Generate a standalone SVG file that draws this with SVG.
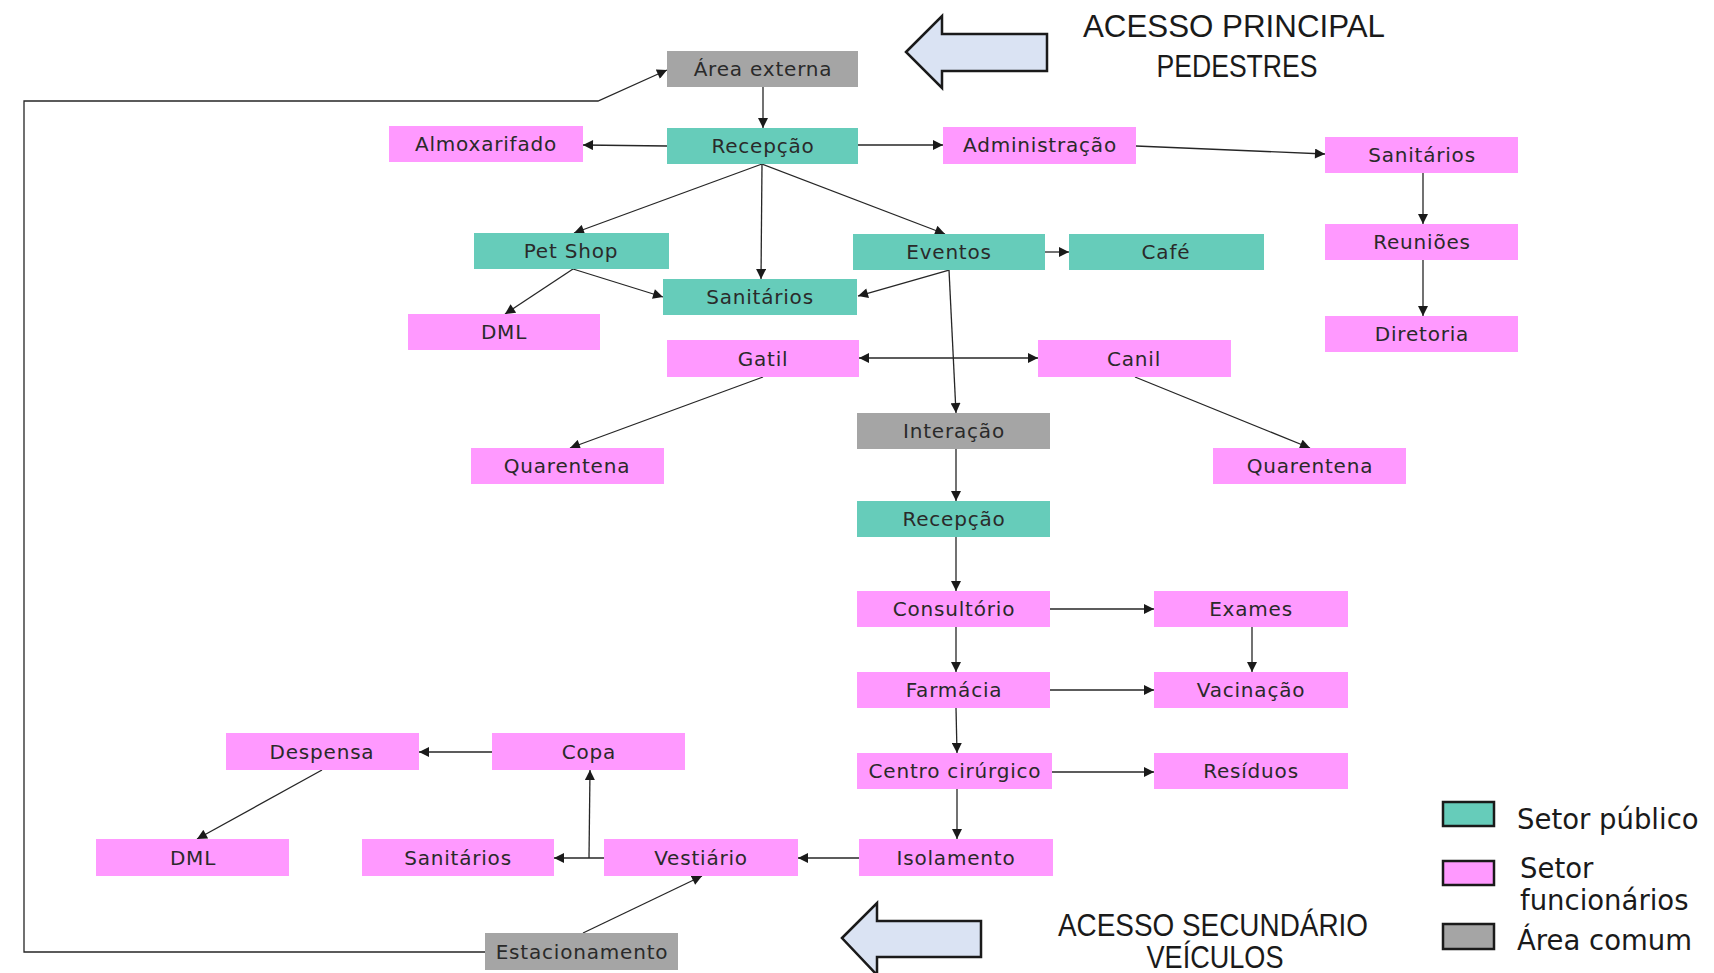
<svg xmlns="http://www.w3.org/2000/svg" width="1714" height="973" viewBox="0 0 1714 973">
<defs>
<marker id="ah" viewBox="0 0 10 10" refX="10" refY="5" markerWidth="11" markerHeight="10" markerUnits="userSpaceOnUse" orient="auto-start-reverse">
<path d="M0,0 L10,5 L0,10 z" fill="#1a1a1a"/>
</marker>
<style>
.pub{fill:#66CCBA}
.fun{fill:#FF99FF}
.com{fill:#A5A5A5}
.lbl{font-family:"DejaVu Sans",sans-serif;font-size:20px;fill:#2a2a2a;text-anchor:middle;letter-spacing:0.8px}
.cn{fill:none;stroke:#262626;stroke-width:1.3}
.big{fill:#DAE3F3;stroke:#1a1a1a;stroke-width:2.5}
.ttl{font-family:"Liberation Sans",sans-serif;font-size:31px;fill:#1a1a1a;text-anchor:middle}
.leg{font-family:"DejaVu Sans",sans-serif;font-size:27.5px;fill:#1a1a1a}
.lgb{stroke:#1a1a1a;stroke-width:2.5}
</style>
</defs>
<rect width="1714" height="973" fill="#ffffff"/>

<g id="connectors">
<line class="cn" x1="763" y1="87" x2="763" y2="128" marker-end="url(#ah)"/>
<line class="cn" x1="667" y1="146" x2="583" y2="145" marker-end="url(#ah)"/>
<line class="cn" x1="858" y1="145" x2="943" y2="145" marker-end="url(#ah)"/>
<line class="cn" x1="1136" y1="146" x2="1325" y2="154" marker-end="url(#ah)"/>
<line class="cn" x1="1423" y1="173" x2="1423" y2="224" marker-end="url(#ah)"/>
<line class="cn" x1="1423" y1="260" x2="1423" y2="316" marker-end="url(#ah)"/>
<line class="cn" x1="762" y1="164" x2="574" y2="233" marker-end="url(#ah)"/>
<line class="cn" x1="762" y1="164" x2="761" y2="279" marker-end="url(#ah)"/>
<line class="cn" x1="762" y1="164" x2="945" y2="234" marker-end="url(#ah)"/>
<line class="cn" x1="1045" y1="252" x2="1069" y2="252" marker-end="url(#ah)"/>
<line class="cn" x1="573" y1="269" x2="505" y2="314" marker-end="url(#ah)"/>
<line class="cn" x1="573" y1="269" x2="663" y2="297" marker-end="url(#ah)"/>
<line class="cn" x1="949" y1="270" x2="858" y2="296" marker-end="url(#ah)"/>
<line class="cn" x1="949" y1="270" x2="956" y2="413" marker-end="url(#ah)"/>
<line class="cn" x1="859" y1="358" x2="1038" y2="358" marker-start="url(#ah)" marker-end="url(#ah)"/>
<line class="cn" x1="763" y1="377" x2="570" y2="448" marker-end="url(#ah)"/>
<line class="cn" x1="1135" y1="377" x2="1310" y2="448" marker-end="url(#ah)"/>
<line class="cn" x1="956" y1="449" x2="956" y2="501" marker-end="url(#ah)"/>
<line class="cn" x1="956" y1="537" x2="956" y2="591" marker-end="url(#ah)"/>
<line class="cn" x1="1050" y1="609" x2="1154" y2="609" marker-end="url(#ah)"/>
<line class="cn" x1="956" y1="627" x2="956" y2="672" marker-end="url(#ah)"/>
<line class="cn" x1="1252" y1="627" x2="1252" y2="672" marker-end="url(#ah)"/>
<line class="cn" x1="1050" y1="690" x2="1154" y2="690" marker-end="url(#ah)"/>
<line class="cn" x1="956" y1="708" x2="957" y2="753" marker-end="url(#ah)"/>
<line class="cn" x1="1052" y1="772" x2="1154" y2="772" marker-end="url(#ah)"/>
<line class="cn" x1="957" y1="789" x2="957" y2="839" marker-end="url(#ah)"/>
<line class="cn" x1="859" y1="858" x2="798" y2="858" marker-end="url(#ah)"/>
<line class="cn" x1="604" y1="858" x2="554" y2="858" marker-end="url(#ah)"/>
<line class="cn" x1="589" y1="858" x2="590" y2="770" marker-end="url(#ah)"/>
<line class="cn" x1="492" y1="752" x2="419" y2="752" marker-end="url(#ah)"/>
<line class="cn" x1="322" y1="770" x2="197" y2="839" marker-end="url(#ah)"/>
<line class="cn" x1="583" y1="933" x2="702" y2="876" marker-end="url(#ah)"/>
<polyline class="cn" points="485,952 24,952 24,101 598,101 667,70" marker-end="url(#ah)"/>
</g>

<g id="n-area-externa"><rect class="com" x="667" y="51" width="191" height="36"/><text class="lbl" x="763" y="76">Área externa</text></g>
<g id="n-recepcao1"><rect class="pub" x="667" y="128" width="191" height="36"/><text class="lbl" x="763" y="153">Recepção</text></g>
<g id="n-almoxarifado"><rect class="fun" x="389" y="126" width="194" height="36"/><text class="lbl" x="486" y="151">Almoxarifado</text></g>
<g id="n-administracao"><rect class="fun" x="943" y="127" width="193" height="37"/><text class="lbl" x="1040" y="152">Administração</text></g>
<g id="n-sanitarios-adm"><rect class="fun" x="1325" y="137" width="193" height="36"/><text class="lbl" x="1422" y="162">Sanitários</text></g>
<g id="n-reunioes"><rect class="fun" x="1325" y="224" width="193" height="36"/><text class="lbl" x="1422" y="249">Reuniões</text></g>
<g id="n-diretoria"><rect class="fun" x="1325" y="316" width="193" height="36"/><text class="lbl" x="1422" y="341">Diretoria</text></g>
<g id="n-petshop"><rect class="pub" x="474" y="233" width="195" height="36"/><text class="lbl" x="571" y="258">Pet Shop</text></g>
<g id="n-eventos"><rect class="pub" x="853" y="234" width="192" height="36"/><text class="lbl" x="949" y="259">Eventos</text></g>
<g id="n-cafe"><rect class="pub" x="1069" y="234" width="195" height="36"/><text class="lbl" x="1166" y="259">Café</text></g>
<g id="n-sanitarios-pub"><rect class="pub" x="663" y="279" width="194" height="36"/><text class="lbl" x="760" y="304">Sanitários</text></g>
<g id="n-dml1"><rect class="fun" x="408" y="314" width="192" height="36"/><text class="lbl" x="504" y="339">DML</text></g>
<g id="n-gatil"><rect class="fun" x="667" y="340" width="192" height="37"/><text class="lbl" x="763" y="366">Gatil</text></g>
<g id="n-canil"><rect class="fun" x="1038" y="340" width="193" height="37"/><text class="lbl" x="1134" y="366">Canil</text></g>
<g id="n-quarentena-l"><rect class="fun" x="471" y="448" width="193" height="36"/><text class="lbl" x="567" y="473">Quarentena</text></g>
<g id="n-quarentena-r"><rect class="fun" x="1213" y="448" width="193" height="36"/><text class="lbl" x="1310" y="473">Quarentena</text></g>
<g id="n-interacao"><rect class="com" x="857" y="413" width="193" height="36"/><text class="lbl" x="954" y="438">Interação</text></g>
<g id="n-recepcao2"><rect class="pub" x="857" y="501" width="193" height="36"/><text class="lbl" x="954" y="526">Recepção</text></g>
<g id="n-consultorio"><rect class="fun" x="857" y="591" width="193" height="36"/><text class="lbl" x="954" y="616">Consultório</text></g>
<g id="n-exames"><rect class="fun" x="1154" y="591" width="194" height="36"/><text class="lbl" x="1251" y="616">Exames</text></g>
<g id="n-farmacia"><rect class="fun" x="857" y="672" width="193" height="36"/><text class="lbl" x="954" y="697">Farmácia</text></g>
<g id="n-vacinacao"><rect class="fun" x="1154" y="672" width="194" height="36"/><text class="lbl" x="1251" y="697">Vacinação</text></g>
<g id="n-centro"><rect class="fun" x="857" y="753" width="195" height="36"/><text class="lbl" x="955" y="778">Centro cirúrgico</text></g>
<g id="n-residuos"><rect class="fun" x="1154" y="753" width="194" height="36"/><text class="lbl" x="1251" y="778">Resíduos</text></g>
<g id="n-isolamento"><rect class="fun" x="859" y="839" width="194" height="37"/><text class="lbl" x="956" y="865">Isolamento</text></g>
<g id="n-vestiario"><rect class="fun" x="604" y="839" width="194" height="37"/><text class="lbl" x="701" y="865">Vestiário</text></g>
<g id="n-sanitarios-fun"><rect class="fun" x="362" y="839" width="192" height="37"/><text class="lbl" x="458" y="865">Sanitários</text></g>
<g id="n-dml2"><rect class="fun" x="96" y="839" width="193" height="37"/><text class="lbl" x="193" y="865">DML</text></g>
<g id="n-despensa"><rect class="fun" x="226" y="733" width="193" height="37"/><text class="lbl" x="322" y="759">Despensa</text></g>
<g id="n-copa"><rect class="fun" x="492" y="733" width="193" height="37"/><text class="lbl" x="589" y="759">Copa</text></g>
<g id="n-estacionamento"><rect class="com" x="485" y="933" width="193" height="37"/><text class="lbl" x="582" y="959">Estacionamento</text></g>

<g id="acesso-principal">
<polygon class="big" points="906,52 942,16 942,34 1047,34 1047,71 942,71 942,88"/>
<text class="ttl" x="1234" y="37" font-size="32" textLength="302" lengthAdjust="spacingAndGlyphs">ACESSO PRINCIPAL</text>
<text class="ttl" x="1237" y="77" font-size="32" textLength="161" lengthAdjust="spacingAndGlyphs">PEDESTRES</text>
</g>
<g id="acesso-secundario">
<polygon class="big" points="842,938 877,903 877,921 981,921 981,957 877,957 877,975"/>
<text class="ttl" x="1213" y="936" font-size="29" textLength="310" lengthAdjust="spacingAndGlyphs">ACESSO SECUNDÁRIO</text>
<text class="ttl" x="1215" y="968" font-size="29" textLength="137" lengthAdjust="spacingAndGlyphs">VEÍCULOS</text>
</g>

<g id="legend">
<rect class="pub lgb" x="1443" y="802" width="51" height="24"/>
<text class="leg" x="1517" y="829">Setor público</text>
<rect class="fun lgb" x="1443" y="861" width="51" height="24"/>
<text class="leg" x="1520" y="878">Setor</text>
<text class="leg" x="1520" y="910">funcionários</text>
<rect class="com lgb" x="1443" y="924" width="51" height="25"/>
<text class="leg" x="1517" y="950">Área comum</text>
</g>
</svg>
